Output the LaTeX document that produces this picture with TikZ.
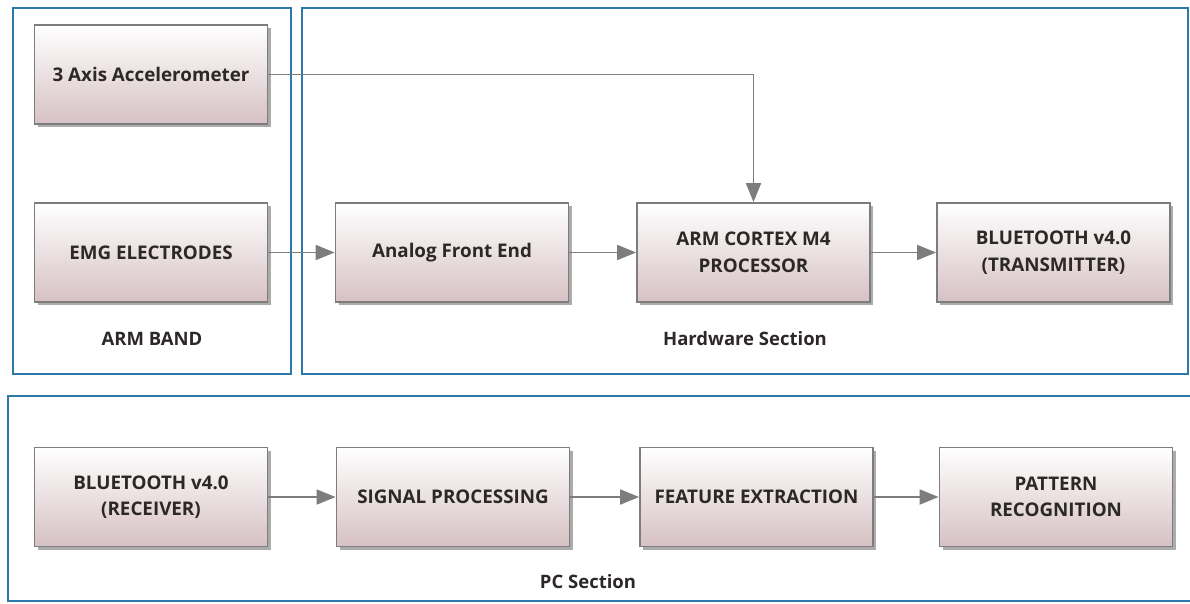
\documentclass[tikz,border=0pt]{standalone}
\usepackage{fontspec}
\setmainfont{Open Sans}
\usetikzlibrary{arrows.meta,shadows}
\definecolor{frameblue}{RGB}{46,120,170}
\definecolor{boxline}{RGB}{125,125,125}
\definecolor{boxbot}{RGB}{214,193,196}
\definecolor{txt}{RGB}{45,40,40}
\definecolor{conn}{RGB}{125,125,125}
\tikzset{
  blockbox/.style={draw=boxline, line width=1.8pt, top color=white, bottom color=boxbot,
    minimum width=233pt, minimum height=99pt, align=center, text=txt,
    font=\fontsize{18.8}{26.5}\selectfont\bfseries,
    drop shadow={shadow xshift=3pt, shadow yshift=-3pt, fill=black!55, opacity=0.6}},
  frame/.style={draw=frameblue, line width=1.8pt},
  conn/.style={draw=conn, line width=1.8pt, -{Triangle[length=19pt,width=15pt]}},
  seclabel/.style={text=txt, font=\fontsize{18.5}{22}\selectfont\bfseries}
}
\begin{document}
\begin{tikzpicture}[x=1pt,y=-1pt]
\useasboundingbox (0,0) rectangle (1190,604);
% frames
\draw[frame] (13,8) rectangle (291,374);
\draw[frame] (302,8) rectangle (1188,374);
\draw[frame] (8,396) rectangle (1192,601);
% blocks
\node[blockbox] (acc) at (151,74.5) {3 Axis Accelerometer};
\node[blockbox] (emg) at (151,252.5) {EMG ELECTRODES};
\node[blockbox] (afe) at (452,252.5) {Analog Front End};
\node[blockbox] (arm) at (753.5,252.5) {ARM CORTEX M4\\PROCESSOR};
\node[blockbox] (btt) at (1053.5,252.5) {BLUETOOTH v4.0\\(TRANSMITTER)};
\node[blockbox] (btr) at (151,497) {BLUETOOTH v4.0\\(RECEIVER)};
\node[blockbox] (sig) at (453,497) {SIGNAL PROCESSING};
\node[blockbox] (fex) at (756.5,497) {FEATURE EXTRACTION};
\node[blockbox] (pat) at (1056,497) {PATTERN\\RECOGNITION};
% labels
\node[seclabel] (lab1) at (152,339) {ARM BAND};
\node[seclabel] (lab2) at (745,339) {Hardware Section};
\node[seclabel] (lab3) at (588,582) {PC Section};
% connectors
\draw[conn] (acc.east) -| (arm.north);
\draw[conn] (emg) -- (afe);
\draw[conn] (afe) -- (arm);
\draw[conn] (arm) -- (btt);
\draw[conn] (btr) -- (sig);
\draw[conn] (sig) -- (fex);
\draw[conn] (fex) -- (pat);
\end{tikzpicture}
\end{document}
